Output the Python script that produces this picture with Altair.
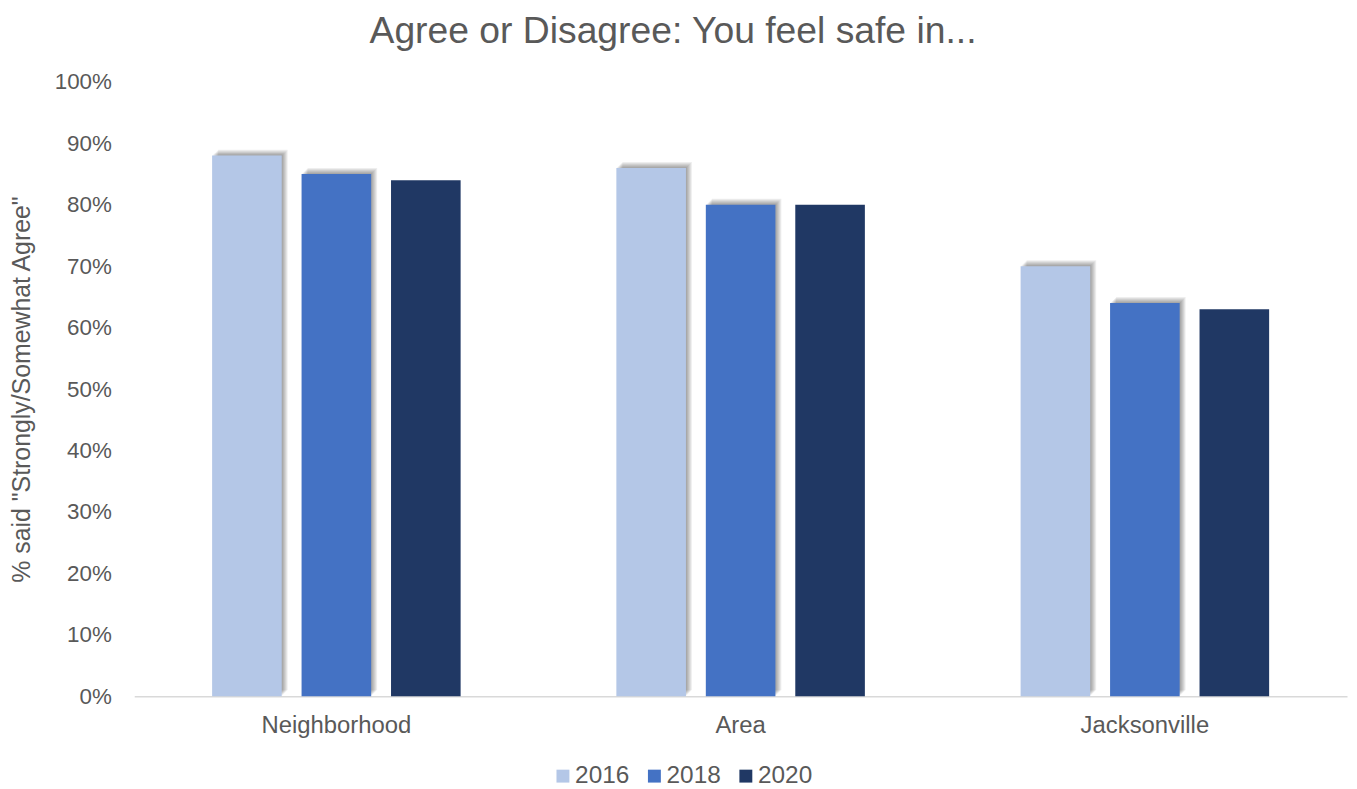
import altair as alt
import pandas as pd

categories = ["Neighborhood", "Area", "Jacksonville"]
years = ["2016", "2018", "2020"]
values_2016 = [0.88, 0.86, 0.70]
values_2018 = [0.85, 0.80, 0.64]
values_2020 = [0.84, 0.80, 0.63]
colors = ["#B4C7E7", "#4472C4", "#203864"]
y_ticks = [0, 0.1, 0.2, 0.3, 0.4, 0.5, 0.6, 0.7, 0.8, 0.9, 1.0]

rows = []
for yr, vals in zip(years, [values_2016, values_2018, values_2020]):
    for c, v in zip(categories, vals):
        rows.append({"Category": c, "Year": yr, "Value": v})
df = pd.DataFrame(rows)

FONT = "Liberation Sans"
TXT = "#595959"
GROUP_W = 250

x_enc = alt.X("Category:N", sort=categories, title=None,
              scale=alt.Scale(paddingInner=0.3852, paddingOuter=0.1926),
              axis=alt.Axis(labelAngle=0, ticks=False, domainColor="#D9D9D9", domainWidth=1.5,
                            labelFontSize=24, labelColor=TXT, labelFont=FONT, labelPadding=17))
y_enc = alt.Y("Value:Q", scale=alt.Scale(domain=[0, 1], nice=False),
              title='% said "Strongly/Somewhat Agree"',
              axis=alt.Axis(values=y_ticks, format=".0%", grid=False, domain=False, ticks=False,
                            labelFontSize=22.5, labelColor=TXT, labelFont=FONT, labelPadding=23,
                            titleFontSize=25, titleColor=TXT, titleFont=FONT, titleFontWeight="normal",
                            titlePadding=20))


def xo(shift):
    return alt.XOffset("Year:N", scale=alt.Scale(domain=years, paddingInner=0.222, paddingOuter=0,
                                                  range=[shift, GROUP_W + shift]))


base = alt.Chart(df)

shadow_layers = []
for d in [2, 3, 4, 5, 6, 7]:
    shadow_layers.append(
        base.transform_filter(alt.FieldOneOfPredicate(field="Year", oneOf=["2016", "2018"]))
        .mark_bar(color="#000000", opacity=0.065, yOffset=-d + 1)
        .encode(x=x_enc, xOffset=xo(d - 1), y=y_enc)
    )

bars = base.mark_bar().encode(
    x=x_enc, xOffset=xo(0), y=y_enc,
    color=alt.Color("Year:N", scale=alt.Scale(domain=years, range=colors),
                    legend=alt.Legend(title=None, orient="none", legendX=419, legendY=686,
                                      direction="horizontal", symbolType="square", symbolSize=169,
                                      symbolStrokeWidth=0, labelFontSize=24.5, labelColor=TXT,
                                      labelFont=FONT, labelOffset=0, columnPadding=12)),
)

chart = alt.layer(*shadow_layers, bars).resolve_scale(xOffset="independent").properties(
    width=1220, height=618,
    title=alt.TitleParams("Agree or Disagree: You feel safe in...", fontSize=37.5, color=TXT,
                          font=FONT, fontWeight="normal", anchor="middle", dx=-68, offset=21),
    autosize=alt.AutoSizeParams(type="none"),
    padding={"left": 127, "top": 72, "right": 2, "bottom": 91},
).configure_view(stroke=None)

chart.save("out.html", embed_options={"renderer": "svg", "actions": False})
